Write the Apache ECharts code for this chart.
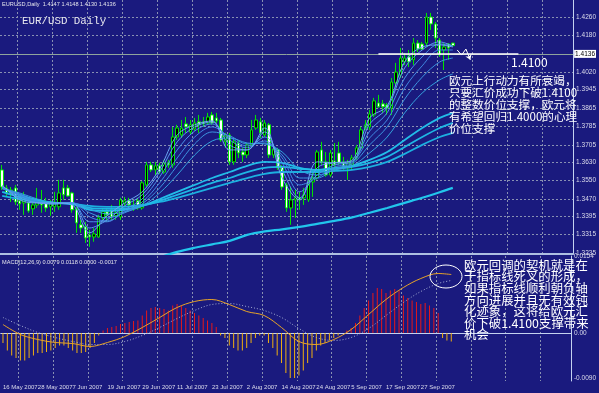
<!DOCTYPE html>
<html><head><meta charset="utf-8">
<script src="https://cdn.jsdelivr.net/npm/echarts@6/dist/echarts.min.js"></script>
<style>html,body{margin:0;padding:0;background:#1a1a7e;}#c{width:599px;height:393px;}</style>
</head><body><div id="c"></div>
<script>
// ---------------- data ----------------
const dateLabels = ['16 May 2007','28 May 2007','7 Jun 2007','19 Jun 2007','29 Jun 2007','11 Jul 2007',
  '23 Jul 2007','2 Aug 2007','14 Aug 2007','24 Aug 2007','5 Sep 2007','17 Sep 2007','27 Sep 2007'];
const priceTicks = [1.4260,1.4180,1.4100,1.4020,1.3945,1.3865,1.3785,1.3705,1.3630,1.3550,1.3470,1.3395,1.3315,1.3235];
const macdTicks = [0.0154, 0, -0.0090];

const open = [
1.3596,1.3518,1.3496,1.3518,1.3462,1.3453,1.3453,1.3427,1.3444,1.3457,
1.3453,1.3436,1.3436,1.3436,1.3518,1.3518,1.3496,1.3427,1.3358,1.3349,
1.3314,1.3305,1.3305,1.3388,1.3414,1.3423,1.3397,1.3392,1.3449,1.3462,
1.3444,1.3462,1.3431,1.3531,1.3618,1.3596,1.3614,1.3587,1.3627,1.3618,
1.3739,1.3748,1.3796,1.3761,1.3774,1.3805,1.3805,1.3800,1.3835,1.3822,
1.3813,1.3718,1.3748,1.3631,1.3713,1.3674,1.3661,1.3705,1.3778,1.3805,
1.3748,1.3792,1.3661,1.3683,1.3609,1.3531,1.3431,1.3466,1.3475,1.3475,
1.3466,1.3544,1.3561,1.3683,1.3631,1.3574,1.3635,1.3670,1.3631,1.3605,
1.3618,1.3648,1.3692,1.3778,1.3783,1.3835,1.3887,1.3883,1.3878,1.3865,
1.3974,1.4008,1.4065,1.4087,1.4074,1.4147,1.4143,1.4147,1.4260,1.4230,
1.4160,1.4117,1.4143,1.4147];
const close = [
1.3522,1.3496,1.3509,1.3457,1.3449,1.3466,1.3418,1.3444,1.3457,1.3444,
1.3431,1.3449,1.3457,1.3496,1.3488,1.3483,1.3423,1.3366,1.3344,1.3301,
1.3305,1.3318,1.3388,1.3414,1.3401,1.3392,1.3410,1.3466,1.3462,1.3444,
1.3431,1.3431,1.3540,1.3618,1.3596,1.3614,1.3587,1.3627,1.3618,1.3739,
1.3778,1.3778,1.3783,1.3792,1.3800,1.3792,1.3796,1.3826,1.3800,1.3809,
1.3726,1.3748,1.3631,1.3718,1.3670,1.3661,1.3705,1.3770,1.3813,1.3757,
1.3800,1.3661,1.3687,1.3605,1.3522,1.3431,1.3466,1.3475,1.3466,1.3488,
1.3544,1.3561,1.3674,1.3631,1.3574,1.3670,1.3618,1.3627,1.3609,1.3627,
1.3648,1.3692,1.3770,1.3792,1.3839,1.3896,1.3870,1.3870,1.3865,1.3978,
1.4021,1.4082,1.4082,1.4065,1.4147,1.4121,1.4121,1.4260,1.4230,1.4169,
1.4095,1.4130,1.4126,1.4136];
const low = [
1.3509,1.3479,1.3457,1.3444,1.3423,1.3401,1.3410,1.3401,1.3431,1.3410,
1.3414,1.3397,1.3414,1.3423,1.3466,1.3479,1.3410,1.3323,1.3323,1.3279,
1.3262,1.3284,1.3301,1.3379,1.3371,1.3379,1.3379,1.3379,1.3436,1.3431,
1.3418,1.3423,1.3423,1.3522,1.3587,1.3574,1.3579,1.3579,1.3605,1.3605,
1.3726,1.3735,1.3757,1.3748,1.3765,1.3757,1.3783,1.3792,1.3792,1.3800,
1.3718,1.3692,1.3618,1.3618,1.3648,1.3631,1.3648,1.3696,1.3770,1.3735,
1.3739,1.3648,1.3648,1.3596,1.3509,1.3414,1.3358,1.3388,1.3423,1.3444,
1.3457,1.3479,1.3553,1.3618,1.3566,1.3566,1.3587,1.3618,1.3596,1.3553,
1.3596,1.3640,1.3683,1.3770,1.3770,1.3826,1.3865,1.3844,1.3835,1.3835,
1.3956,1.3995,1.4052,1.4043,1.4052,1.4108,1.4117,1.4130,1.4204,1.4126,
1.4087,1.4030,1.4074,1.4130];
const high = [
1.3618,1.3531,1.3522,1.3531,1.3479,1.3501,1.3466,1.3466,1.3518,1.3509,
1.3475,1.3466,1.3501,1.3553,1.3553,1.3531,1.3501,1.3436,1.3379,1.3371,
1.3336,1.3344,1.3401,1.3431,1.3431,1.3444,1.3431,1.3475,1.3479,1.3475,
1.3466,1.3475,1.3548,1.3631,1.3631,1.3631,1.3627,1.3640,1.3640,1.3783,
1.3792,1.3813,1.3826,1.3813,1.3822,1.3835,1.3826,1.3844,1.3848,1.3844,
1.3822,1.3757,1.3757,1.3726,1.3726,1.3692,1.3713,1.3813,1.3835,1.3822,
1.3813,1.3800,1.3705,1.3692,1.3618,1.3540,1.3522,1.3509,1.3501,1.3518,
1.3553,1.3596,1.3683,1.3718,1.3674,1.3683,1.3713,1.3718,1.3653,1.3640,
1.3661,1.3705,1.3783,1.3813,1.3857,1.3909,1.3922,1.3900,1.3887,1.3995,
1.4061,1.4126,1.4104,1.4117,1.4169,1.4160,1.4152,1.4278,1.4278,1.4239,
1.4169,1.4147,1.4147,1.4148];

// moving averages, read at every 4th bar
const maIdx = [0,4,8,12,16,20,24,28,32,36,40,44,48,52,56,60,64,68,72,76,80,84,88,92,96,100,103];
const emaS1 = [1.3531,1.3466,1.3453,1.3453,1.3444,1.3323,1.3397,1.3453,1.3501,1.3601,1.3748,1.3792,1.3809,1.3683,1.3683,1.3778,1.3561,1.3466,1.3631,1.3627,1.3640,1.3822,1.3874,1.4065,1.4130,1.4139,1.4130];
const emaS2 = [1.3527,1.3475,1.3453,1.3449,1.3453,1.3344,1.3379,1.3440,1.3488,1.3587,1.3718,1.3783,1.3805,1.3705,1.3683,1.3761,1.3596,1.3475,1.3605,1.3627,1.3635,1.3796,1.3865,1.4039,1.4117,1.4152,1.4134];
const emaS3 = [1.3522,1.3483,1.3453,1.3449,1.3453,1.3371,1.3371,1.3423,1.3470,1.3566,1.3683,1.3765,1.3796,1.3726,1.3692,1.3739,1.3627,1.3501,1.3574,1.3618,1.3631,1.3765,1.3844,1.3995,1.4087,1.4143,1.4134];
const emaS4 = [1.3518,1.3488,1.3457,1.3449,1.3453,1.3392,1.3375,1.3414,1.3457,1.3540,1.3648,1.3739,1.3783,1.3739,1.3700,1.3722,1.3648,1.3531,1.3561,1.3609,1.3627,1.3735,1.3813,1.3952,1.4048,1.4117,1.4117];
const emaS5 = [1.3518,1.3492,1.3462,1.3449,1.3453,1.3410,1.3388,1.3410,1.3449,1.3518,1.3614,1.3709,1.3761,1.3744,1.3709,1.3713,1.3661,1.3561,1.3561,1.3601,1.3622,1.3705,1.3783,1.3904,1.3999,1.4065,1.4082];
const emaS6 = [1.3514,1.3496,1.3470,1.3453,1.3453,1.3427,1.3405,1.3414,1.3440,1.3496,1.3574,1.3661,1.3722,1.3735,1.3713,1.3709,1.3674,1.3596,1.3574,1.3596,1.3614,1.3670,1.3739,1.3844,1.3930,1.3987,1.4013];
const emaL1 = [1.3518,1.3488,1.3466,1.3453,1.3449,1.3423,1.3418,1.3423,1.3440,1.3470,1.3501,1.3531,1.3561,1.3587,1.3614,1.3631,1.3627,1.3605,1.3596,1.3605,1.3614,1.3640,1.3674,1.3726,1.3778,1.3822,1.3844];
const emaL2 = [1.3501,1.3479,1.3462,1.3453,1.3449,1.3431,1.3427,1.3427,1.3440,1.3462,1.3488,1.3514,1.3540,1.3561,1.3587,1.3605,1.3609,1.3601,1.3596,1.3601,1.3609,1.3627,1.3653,1.3696,1.3739,1.3778,1.3800];
const emaL3 = [1.3483,1.3470,1.3457,1.3453,1.3449,1.3440,1.3436,1.3436,1.3444,1.3457,1.3475,1.3496,1.3518,1.3540,1.3561,1.3579,1.3587,1.3587,1.3587,1.3592,1.3596,1.3609,1.3631,1.3666,1.3705,1.3739,1.3757];
const emaSlow = [null,null,null,null,null,null,null,null,null,1.3216,1.3240,1.3258,1.3273,1.3288,1.3314,1.3329,1.3338,1.3349,1.3362,1.3375,1.3390,1.3410,1.3431,1.3453,1.3475,1.3499,1.3518];

// MACD pane
const macdHist = [
-0.0020,-0.0035,-0.0045,-0.0050,-0.0055,-0.0055,-0.0050,-0.0045,-0.0040,-0.0040,
-0.0038,-0.0035,-0.0030,-0.0025,-0.0025,-0.0030,-0.0035,-0.0040,-0.0040,-0.0038,
-0.0030,-0.0020,-0.0005,0.0005,0.0010,0.0012,0.0014,0.0018,0.0020,0.0022,
0.0024,0.0025,0.0035,0.0045,0.0050,0.0052,0.0050,0.0048,0.0045,0.0055,
0.0058,0.0055,0.0050,0.0045,0.0040,0.0035,0.0030,0.0025,0.0020,0.0012,
-0.0005,-0.0010,-0.0025,-0.0030,-0.0035,-0.0035,-0.0030,-0.0020,-0.0010,-0.0005,
-0.0005,-0.0020,-0.0030,-0.0045,-0.0060,-0.0080,-0.0090,-0.0090,-0.0085,-0.0075,
-0.0060,-0.0050,-0.0035,-0.0025,-0.0020,-0.0015,-0.0010,-0.0005,0.0000,0.0005,
0.0010,0.0020,0.0035,0.0050,0.0065,0.0080,0.0090,0.0088,0.0080,0.0085,
0.0088,0.0085,0.0075,0.0070,0.0065,0.0062,0.0058,0.0060,0.0055,0.0050,
0.0040,-0.0010,-0.0015,-0.0017];
const macdMain = [0.0017,-0.0003,-0.0013,-0.0019,-0.0021,-0.0027,-0.0019,-0.0007,0.0011,0.0031,0.0051,0.0063,0.0067,0.0057,0.0043,0.0035,0.0011,-0.0017,-0.0023,-0.0013,0.0007,0.0037,0.0067,0.0091,0.0109,0.0119,0.0117];
const macdSignal = [0.0031,0.0015,0.0001,-0.0009,-0.0017,-0.0023,-0.0023,-0.0017,-0.0005,0.0011,0.0029,0.0045,0.0057,0.0059,0.0053,0.0045,0.0031,0.0009,-0.0009,-0.0015,-0.0009,0.0009,0.0035,0.0061,0.0083,0.0099,0.0105];

const lastPrice = 1.4136;
const supportLevel = 1.4100;
const zigzag = [[104,1.4117],[105,1.4095],[106,1.4121],[107,1.4074]];

const note1 = ['欧元上行动力有所衰竭，','只要汇价成功下破1.4100','的整数价位支撑，欧元将','有希望回归1.4000的心理','价位支撑'];
const note2 = ['欧元回调的契机就是在','于指标线死叉的形成，','如果指标线顺利朝负轴','方向进展并且无有效钝','化迹象，这将给欧元汇','价下破1.4100支撑带来','机会'];

// ---------------- chart ----------------
const NSLOT = 131;
const cats = Array.from({length: NSLOT}, (_, i) => String(i));
const BG = '#1a1a7e';
const GRIDLINE = {color: '#8890b2', type: [2, 2], width: 1};
const AXISCOL = '#c4d2f0';
const LBL = '#dcdcec';
const per = 8; // bars between date labels

const pairs = arr => maIdx.map((x, k) => [x, arr[k]]).filter(p => p[1] != null);
function maSeries(arr, color, width) {
  return {type: 'line', xAxisIndex: 0, yAxisIndex: 0, data: pairs(arr), smooth: 0.35,
    showSymbol: false, silent: true, lineStyle: {color, width}, clip: true, z: 3};
}

const chart = echarts.init(document.getElementById('c'), null, {renderer: 'canvas'});
chart.setOption({
  animation: false,
  backgroundColor: BG,
  grid: [
    {left: 0, right: 23, top: 0, height: 254},
    {left: 0, right: 23, top: 256, height: 125}
  ],
  xAxis: [
    {type: 'category', gridIndex: 0, data: cats, boundaryGap: true,
     axisLine: {show: true, lineStyle: {color: '#aebfe2', width: 2}},
     axisTick: {show: false}, axisLabel: {show: false},
     splitLine: {show: true, interval: (i) => i % per === 4, lineStyle: GRIDLINE}},
    {type: 'category', gridIndex: 1, data: cats, boundaryGap: true,
     axisLine: {show: true, lineStyle: {color: AXISCOL, width: 1}},
     axisTick: {show: false},
     axisLabel: {show: true, interval: (i) => i % per === 0 && i / per < dateLabels.length,
       formatter: (v, i) => dateLabels[Math.round(i / per)] || '',
       align: 'left', fontSize: 6, color: LBL, margin: 3, fontFamily: 'Liberation Sans'},
     splitLine: {show: true, interval: (i) => i % per === 4, lineStyle: GRIDLINE}}
  ],
  yAxis: [
    {type: 'value', gridIndex: 0, position: 'right', min: 1.3231, max: 1.4334, scale: true,
     axisLine: {show: true, lineStyle: {color: AXISCOL, width: 1}},
     axisTick: {show: false, customValues: priceTicks},
     axisLabel: {customValues: priceTicks, formatter: v => v.toFixed(4), fontSize: 6.5,
       color: LBL, margin: 3, fontFamily: 'Liberation Sans'},
     splitLine: {show: true, lineStyle: GRIDLINE}},
    {type: 'value', gridIndex: 1, position: 'right', min: -0.0096, max: 0.0154,
     axisLine: {show: true, lineStyle: {color: AXISCOL, width: 1}},
     axisTick: {show: false, customValues: [0]},
     axisLabel: {customValues: macdTicks, formatter: v => (v === 0 ? '0.00' : v.toFixed(4)),
       fontSize: 6.5, color: LBL, margin: 3, fontFamily: 'Liberation Sans'},
     splitLine: {show: true, lineStyle: GRIDLINE}}
  ],
  series: [
    {type: 'candlestick', xAxisIndex: 0, yAxisIndex: 0, barWidth: 3, silent: true, z: 2,
     data: open.map((o, i) => [o, close[i], low[i], high[i]]),
     itemStyle: {color: '#000000', borderColor: '#00e400', color0: '#ffffff', borderColor0: '#00e400', borderWidth: 1},
     markLine: {silent: true, symbol: ['none', 'none'], animation: false,
       data: [
         {yAxis: lastPrice, lineStyle: {color: '#8fa49c', type: 'solid', width: 1},
          label: {show: true, position: 'end', formatter: lastPrice.toFixed(4), backgroundColor: '#ffffff',
            color: '#000000', fontSize: 6.5, padding: [1, 1, 0, 1], distance: 1, fontFamily: 'Liberation Sans'}},
         [{coord: [86, supportLevel], lineStyle: {color: '#ffffff', type: 'solid', width: 1.5}, label: {show: false}},
          {coord: [118, supportLevel]}]
       ]}},
    maSeries(emaL3, '#1cb0e0', 1.8),
    maSeries(emaL2, '#1eb6e4', 1.8),
    maSeries(emaL1, '#22bce8', 1.8),
    maSeries(emaS6, '#35a0de', 1),
    maSeries(emaS5, '#3c94e0', 1),
    maSeries(emaS4, '#4088e2', 1),
    maSeries(emaS3, '#4a92ea', 1),
    maSeries(emaS2, '#5a9cee', 1),
    maSeries(emaS1, '#6aa6f2', 1),
    maSeries(emaSlow, '#22c6ec', 2.2),
    {type: 'lines', coordinateSystem: 'cartesian2d', xAxisIndex: 0, yAxisIndex: 0, silent: true, z: 5,
     polyline: true, data: [{coords: zigzag.slice(0, 3)}],
     lineStyle: {color: '#ffffff', width: 1, opacity: 1, curveness: 0}},
    {type: 'lines', coordinateSystem: 'cartesian2d', xAxisIndex: 0, yAxisIndex: 0, silent: true, z: 5,
     symbol: ['none', 'arrow'], symbolSize: 5,
     data: [{coords: zigzag.slice(2)}],
     lineStyle: {color: '#ffffff', width: 1, opacity: 1, curveness: 0}},
    {type: 'bar', xAxisIndex: 1, yAxisIndex: 1, barWidth: 1, silent: true,
     data: macdHist.map(v => ({value: v, itemStyle: {color: v >= 0 ? '#e81818' : '#f0b010'}}))},
    {type: 'line', xAxisIndex: 1, yAxisIndex: 1, data: maIdx.map((x, k) => [x, macdSignal[k]]),
     smooth: 0.35, showSymbol: false, silent: true, lineStyle: {color: '#a4acd4', width: 1, type: [1, 2]}},
    {type: 'line', xAxisIndex: 1, yAxisIndex: 1, data: maIdx.map((x, k) => [x, macdMain[k]]),
     smooth: 0.35, showSymbol: false, silent: true, lineStyle: {color: '#e8a428', width: 1}}
  ],
  graphic: [
    {type: 'text', left: 2, top: 1, z: 100, silent: true,
     style: {text: 'EURUSD,Daily  1.4147 1.4148 1.4130 1.4136', fill: '#e4e4ec', fontSize: 5.6, fontFamily: 'Liberation Sans'}},
    {type: 'text', left: 22, top: 16, z: 100, silent: true,
     style: {text: 'EUR/USD Daily', fill: '#e6e6ee', fontSize: 10.8, fontFamily: 'Liberation Mono'}},
    {type: 'text', left: 511, top: 56, z: 100, silent: true,
     style: {text: '1.4100', fill: '#ffffff', fontSize: 12, fontFamily: 'Noto Sans CJK SC'}},
    {type: 'text', left: 449, top: 75, z: 100, silent: true,
     style: {text: note1.join('\n'), fill: '#ffffff', fontSize: 11.6, lineHeight: 11.8, fontFamily: 'Noto Sans CJK SC'}},
    {type: 'text', left: 2, top: 259, z: 100, silent: true,
     style: {text: 'MACD(12,26,9) 0.0079 0.0118 0.0000 -0.0017', fill: '#e4e4ec', fontSize: 5.6, fontFamily: 'Liberation Sans'}},
    {type: 'text', left: 464, top: 259, z: 100, silent: true,
     style: {text: note2.join('\n'), fill: '#ffffff', fontSize: 12.4, lineHeight: 11.6, fontFamily: 'Noto Sans CJK SC'}},
    {type: 'ellipse', z: 100, silent: true, shape: {cx: 446, cy: 276.5, rx: 16, ry: 11.5},
     style: {stroke: '#ffffff', fill: null, lineWidth: 1}}
  ]
});
</script></body></html>
